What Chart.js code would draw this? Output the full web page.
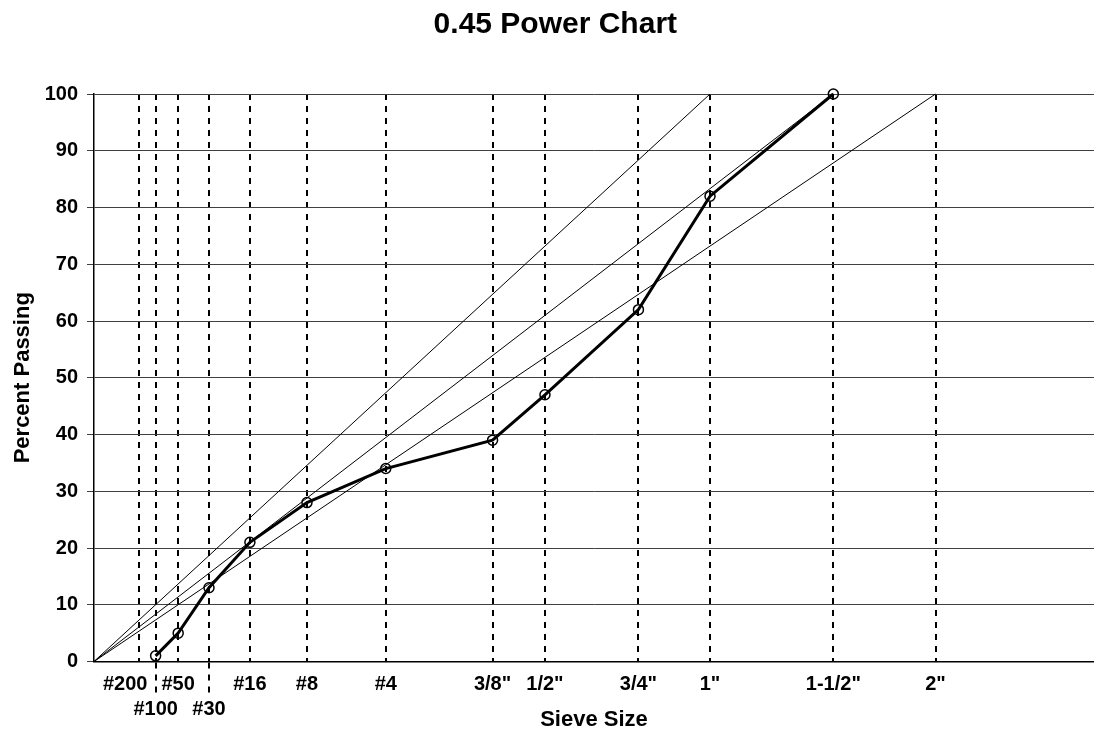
<!DOCTYPE html>
<html>
<head>
<meta charset="utf-8">
<title>0.45 Power Chart</title>
<script src="https://cdn.jsdelivr.net/npm/chart.js@4.4.1/dist/chart.umd.min.js"></script>
<style>
  html, body { margin: 0; padding: 0; background: #fff; }
  #wrap { width: 1094px; height: 729px; }
</style>
</head>
<body>
<div id="wrap"><canvas id="power-chart" width="1094" height="729"></canvas></div>
<script>
'use strict';

// *************** DATA
let sieveLabels = ['#200', '#100', '#50', '#30', '#16', '#8', '#4', '3/8"', '1/2"', '3/4"', '1"', '1-1/2"', '2"'];
let sieveSizesMm = [0.075, 0.15, 0.3, 0.6, 1.18, 2.36, 4.75, 9.5, 12.5, 19, 25, 37.5, 50];
let percentPassing = [null, 1, 5, 13, 21, 28, 34, 39, 47, 62, 82, 100, null];
let maxDensitySizesMm = [25, 37.5, 50];
let secondRowLabels = ['#100', '#30'];
let yTicks = [0, 10, 20, 30, 40, 50, 60, 70, 80, 90, 100];

// the chart's x axis is sieve size raised to the 0.45 power
let POWER = 0.45;
function powerX(mm) {
  return Math.pow(mm, POWER);
}

let sieveX = sieveSizesMm.map(powerX);

// *************** DATASETS
let gradationPoints = [];
for (let i = 0; i < sieveX.length; i++) {
  if (percentPassing[i] !== null) {
    gradationPoints.push({ x: sieveX[i], y: percentPassing[i] });
  }
}

let datasets = [];
for (let i = 0; i < maxDensitySizesMm.length; i++) {
  datasets.push({
    data: [{ x: 0, y: 0 }, { x: powerX(maxDensitySizesMm[i]), y: 100 }],
    borderColor: '#000',
    borderWidth: 1,
    pointRadius: 0,
    clip: false,
    order: 2
  });
}
datasets.push({
  data: gradationPoints,
  borderColor: '#000',
  borderWidth: 3,
  pointRadius: 5,
  pointBorderWidth: 1.5,
  pointBorderColor: '#000',
  pointBackgroundColor: 'rgba(0,0,0,0)',
  clip: false,
  order: 1
});

// *************** CHART
Chart.defaults.font.family = '"Liberation Sans", Arial, sans-serif';
Chart.defaults.color = '#000';

let tickFont = { size: 20, weight: 'bold', lineHeight: 1.25 };

function sieveTickLabel(value, index) {
  let label = sieveLabels[index];
  if (secondRowLabels.includes(label)) {
    return ['', label];
  }
  if (index === 0) {
    return label + '     '; // nudge left, clear of #50
  }
  return label;
}

let ctx = document.getElementById('power-chart');

new Chart(ctx, { // eslint-disable-line
  type: 'line',
  data: { datasets: datasets },
  options: {
    responsive: false,
    animation: false,
    parsing: false,
    layout: { padding: 0, autoPadding: false },
    plugins: {
      legend: { display: false },
      tooltip: { enabled: false },
      title: {
        display: true,
        text: '  0.45 Power Chart',
        color: '#000',
        font: { size: 30, weight: 'bold', lineHeight: 1.2 },
        padding: { top: 7, bottom: 51 }
      }
    },
    scales: {
      x: {
        type: 'linear',
        min: 0,
        max: 6.91,
        afterBuildTicks: (scale) => {
          scale.ticks = sieveX.map(v => ({ value: v }));
        },
        afterFit: (scale) => {
          scale.height = 67.5;
        },
        ticks: {
          autoSkip: false,
          maxRotation: 0,
          font: tickFont,
          color: '#000',
          padding: -21,
          callback: sieveTickLabel
        },
        grid: {
          color: '#000',
          lineWidth: 2,
          drawTicks: true,
          tickLength: 31,
          tickWidth: 2,
          tickBorderDash: [6, 6],
          tickColor: (c) => secondRowLabels.includes(sieveLabels[c.index]) ? '#000' : 'rgba(0,0,0,0)'
        },
        border: { display: true, color: '#000', width: 1.5, dash: [6, 6] },
        title: {
          display: true,
          text: 'Sieve Size',
          color: '#000',
          font: { size: 22, weight: 'bold', lineHeight: 1.2 },
          padding: { top: 0, bottom: -4 }
        }
      },
      y: {
        min: 0,
        max: 100,
        afterBuildTicks: (scale) => {
          scale.ticks = yTicks.map(v => ({ value: v }));
        },
        afterFit: (scale) => {
          scale.width = 94;
        },
        ticks: {
          font: { size: 20, weight: 'bold' },
          color: '#000',
          padding: 9
        },
        grid: {
          color: '#404040',
          lineWidth: 1,
          tickLength: 7
        },
        border: { display: true, color: '#000', width: 1.5 },
        title: {
          display: true,
          text: 'Percent Passing',
          color: '#000',
          font: { size: 22, weight: 'bold', lineHeight: 1.2 },
          padding: { top: 10, bottom: 0 }
        }
      }
    }
  }
});
</script>
</body>
</html>
